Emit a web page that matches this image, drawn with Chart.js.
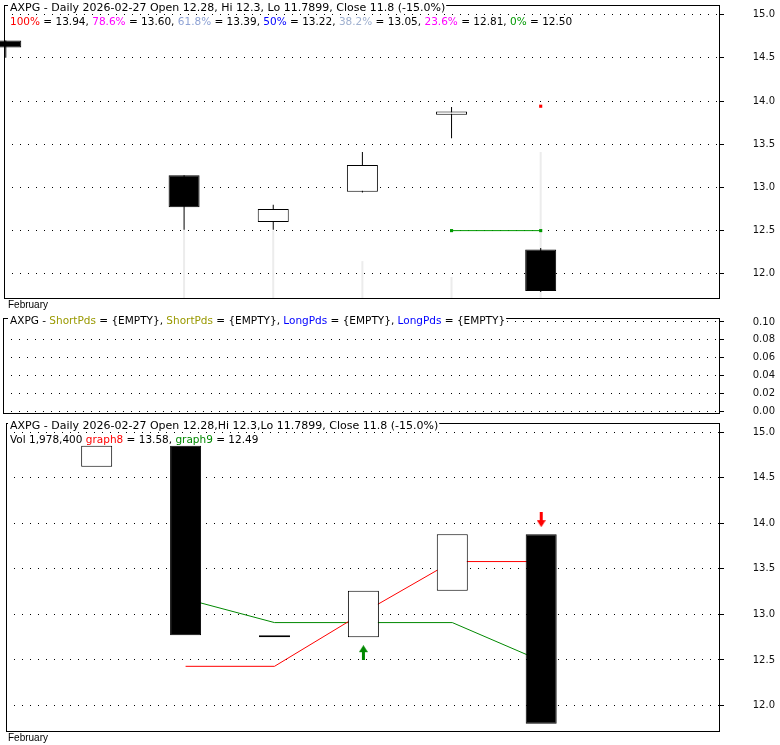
<!DOCTYPE html>
<html>
<head>
<meta charset="utf-8">
<title>AXPG Daily</title>
<script src="https://cdn.jsdelivr.net/npm/chart.js@4.4.1/dist/chart.umd.min.js"></script>
<style>
  html, body { margin: 0; padding: 0; background: #fff; }
  #page { position: relative; width: 780px; height: 745px; overflow: hidden; }
  canvas { position: absolute; left: 0; }
</style>
</head>
<body>
<div id="page">
  <canvas id="priceChart" width="780" height="320" style="top:-4px"></canvas>
  <canvas id="pdsChart" width="780" height="110" style="top:310px"></canvas>
  <canvas id="signalChart" width="780" height="331" style="top:414px"></canvas>
</div>
<script>
const symbol = 'AXPG';
const dates = ['2026-02-19', '2026-02-20', '2026-02-23', '2026-02-24', '2026-02-25', '2026-02-26', '2026-02-27'];
const opens = [14.70, null, 13.14, 12.60, 12.95, 13.84, 12.28];
const highs = [14.70, null, 13.14, 12.80, 13.41, 13.93, 12.3];
const lows = [14.50, null, 12.51, 12.51, 12.94, 13.57, 11.7899];
const closes = [14.62, 14.85, 12.77, 12.75, 13.26, 13.88, 11.8];
const volumes = [null, null, 925000, 915000, 500000, 285000, 1978400];

const fibLabels = ['100%', '78.6%', '61.8%', '50%', '38.2%', '23.6%', '0%'];
const fibValues = [13.94, 13.60, 13.39, 13.22, 13.05, 12.81, 12.50];
const fibColors = ['#ff0000', '#ff00ff', '#8ea2d4', '#0000ff', '#9fb0cf', '#ff00ff', '#009900'];
const fib0Line = [null, null, null, null, null, 12.50, 12.50];
const fib100Mark = [null, null, null, null, null, null, 13.94];

const shortPds = [null, null, null, null, null, null, null];
const longPds = [null, null, null, null, null, null, null];

const graph8 = [null, null, 12.43, 12.43, 13.02, 13.58, 13.58];
const graph9 = [null, null, 13.17, 12.91, 12.91, 12.91, 12.49];
const buySignal = [null, null, null, null, 12.58, null, null];
const sellSignal = [null, null, null, null, null, null, 14.04];

const priceTicks = [12.0, 12.5, 13.0, 13.5, 14.0, 14.5, 15.0];
const pdsTicks = [0.00, 0.02, 0.04, 0.06, 0.08, 0.10];

const FONT = '"DejaVu Sans"';
const HEAD_FONT = '10.5px "DejaVu Sans"';
const TITLE_FONT = '11px "DejaVu Sans"';
const last = closes.length - 1;
const changePct = ((closes[last] - closes[last - 1]) / closes[last - 1] * 100).toFixed(1);
const monthName = new Date(dates[0] + 'T12:00:00').toLocaleString('en-US', {month: 'long'});

const points = (arr) => arr.map((v, i) => ({x: i, y: v})).filter(p => p.y != null);

function drawParts(ctx, x, y, parts, bg, font) {
  ctx.save();
  ctx.font = font || HEAD_FONT;
  let w = 0;
  parts.forEach(p => { w += ctx.measureText(p[0]).width; });
  if (bg) {
    ctx.fillStyle = '#fff';
    ctx.fillRect(x - 2, y - 9, w + 3, 11);
  }
  let cx = x;
  parts.forEach(p => {
    ctx.fillStyle = p[1];
    ctx.fillText(p[0], cx, y);
    cx += ctx.measureText(p[0]).width;
  });
  ctx.restore();
}

const panelPlugin = {
  id: 'panel',
  afterDraw(chart, args, opts) {
    const ctx = chart.ctx;
    const a = chart.chartArea;
    ctx.save();
    ctx.strokeStyle = '#000';
    ctx.lineWidth = 1;
    const l = Math.round(a.left) + 0.5, r = Math.round(a.right) + 0.5;
    const t = Math.round(a.top) - 0.5, b = Math.round(a.bottom) + 0.5;
    ctx.strokeRect(l, t, r - l, b - t);
    ctx.restore();
    (opts.lines || []).forEach((parts, k) => {
      const font = (k === 0 && opts.title) ? TITLE_FONT : HEAD_FONT;
      drawParts(ctx, 10, a.top + 5 + k * 14, parts, k === 0 || opts.bgAll, font);
    });
    if (opts.month) {
      drawParts(ctx, 8, a.bottom + 10, [[opts.month, '#000']], false, '10px "Liberation Sans"');
    }
  }
};

function valueAxis(min, max, ticks, digits) {
  return {
    type: 'linear',
    position: 'right',
    min: min,
    max: max,
    afterBuildTicks: (s) => { s.ticks = ticks.map(v => ({value: v})); },
    afterFit: (s) => { s.width = 56; },
    ticks: {
      padding: 0,
      crossAlign: 'far',
      autoSkip: false,
      color: '#111',
      font: {family: FONT, size: 10},
      callback: (v) => Number(v).toFixed(digits)
    },
    grid: {color: '#000', lineWidth: 1, tickLength: 5, tickColor: '#000'},
    border: {display: false, dash: [1, 7]}
  };
}

const xAxis = {type: 'linear', min: -0.02, max: 8, offset: false, display: false, grid: {offset: false}};

const baseOptions = (padding) => ({
  responsive: false,
  animation: false,
  events: [],
  layout: {padding: padding}
});

// ---- price panel
const candleIdx = opens.map((o, i) => i).filter(i => opens[i] != null);

new Chart(document.getElementById('priceChart'), {
  type: 'bar',
  data: {
    datasets: [
      {
        label: 'Volume',
        yAxisID: 'yVol',
        data: points(volumes),
        backgroundColor: '#ececec',
        barThickness: 2,
        grouped: false,
        inflateAmount: 0,
        order: 5
      },
      {
        label: 'Range',
        data: candleIdx.map(i => ({x: i, y: [lows[i], highs[i]]})),
        backgroundColor: '#000',
        barThickness: 1,
        grouped: false,
        inflateAmount: 0,
        clip: false,
        order: 4
      },
      {
        label: 'Body',
        data: candleIdx.map(i => ({x: i, y: [opens[i], closes[i]]})),
        backgroundColor: candleIdx.map(i => closes[i] >= opens[i] ? '#fff' : '#000'),
        borderColor: '#000',
        borderWidth: 1,
        borderSkipped: false,
        barThickness: 31,
        grouped: false,
        inflateAmount: 0,
        clip: false,
        order: 2
      },
      {
        type: 'line',
        label: fibLabels[6],
        data: points(fib0Line),
        borderColor: fibColors[6],
        borderWidth: 1,
        pointStyle: 'rect',
        pointRadius: 2.2,
        pointBorderWidth: 0,
        pointBackgroundColor: fibColors[6],
        order: 1
      },
      {
        type: 'line',
        label: fibLabels[0],
        data: points(fib100Mark),
        showLine: false,
        pointStyle: 'rect',
        pointRadius: 2.2,
        pointBorderWidth: 0,
        pointBackgroundColor: fibColors[0],
        order: 1
      }
    ]
  },
  options: Object.assign(baseOptions({top: 10, bottom: 18, left: 3, right: 5}), {
    scales: {
      x: xAxis,
      y: valueAxis(11.72, 15.10, priceTicks, 1),
      yVol: {display: false, min: 0, max: 2 * Math.max(...volumes.filter(v => v != null))}
    },
    plugins: {
      legend: {display: false},
      tooltip: {enabled: false},
      panel: {
        month: monthName,
        title: true,
        lines: [
          [[`${symbol} - Daily ${dates[last]} Open ${opens[last]}, Hi ${highs[last]}, Lo ${lows[last]}, Close ${closes[last]} (${changePct}%)`, '#000']],
          fibLabels.flatMap((lab, i) => [
            [lab, fibColors[i]],
            [` = ${fibValues[i].toFixed(2)}` + (i < fibLabels.length - 1 ? ', ' : ''), '#000']
          ])
        ]
      }
    }
  }),
  plugins: [panelPlugin]
});

// ---- short / long periods panel
const pdsText = (arr) => {
  const v = arr.filter(x => x != null);
  return v.length ? v[v.length - 1].toFixed(2) : '{EMPTY}';
};

new Chart(document.getElementById('pdsChart'), {
  type: 'line',
  data: {
    datasets: [
      {label: 'ShortPds', data: points(shortPds), borderColor: '#999900'},
      {label: 'ShortPds', data: points(shortPds), borderColor: '#999900'},
      {label: 'LongPds', data: points(longPds), borderColor: '#0000ff'},
      {label: 'LongPds', data: points(longPds), borderColor: '#0000ff'}
    ]
  },
  options: Object.assign(baseOptions({top: 9, bottom: 7, left: 3, right: 5}), {
    scales: {
      x: xAxis,
      y: valueAxis(-0.0015, 0.1033, pdsTicks, 2)
    },
    plugins: {
      legend: {display: false},
      tooltip: {enabled: false},
      panel: {
        lines: [[
          [`${symbol} - `, '#000'],
          ['ShortPds', '#999900'], [` = ${pdsText(shortPds)}, `, '#000'],
          ['ShortPds', '#999900'], [` = ${pdsText(shortPds)}, `, '#000'],
          ['LongPds', '#0000ff'], [` = ${pdsText(longPds)}, `, '#000'],
          ['LongPds', '#0000ff'], [` = ${pdsText(longPds)}`, '#000']
        ]]
      }
    }
  }),
  plugins: [panelPlugin]
});

// ---- close-to-close / signal panel
function makeArrow(color, up) {
  const c = document.createElement('canvas');
  c.width = 9;
  c.height = 15;
  const g = c.getContext('2d');
  g.fillStyle = color;
  g.beginPath();
  if (up) {
    g.moveTo(4.5, 0); g.lineTo(9, 7); g.lineTo(0, 7); g.closePath(); g.fill();
    g.fillRect(3, 7, 3, 8);
  } else {
    g.fillRect(3, 0, 3, 8);
    g.moveTo(0, 8); g.lineTo(9, 8); g.lineTo(4.5, 15); g.closePath(); g.fill();
  }
  return c;
}

const boxIdx = closes.map((c, i) => i).filter(i => i > 0);

new Chart(document.getElementById('signalChart'), {
  type: 'bar',
  data: {
    datasets: [
      {
        label: 'Close change',
        data: boxIdx.map(i => ({x: i, y: [closes[i - 1], closes[i]]})),
        backgroundColor: boxIdx.map(i => closes[i] > closes[i - 1] ? '#fff' : '#000'),
        borderColor: '#000',
        borderWidth: 1,
        borderSkipped: false,
        barThickness: 31,
        grouped: false,
        inflateAmount: 0,
        order: 2
      },
      {
        type: 'line',
        label: 'graph8',
        data: points(graph8),
        borderColor: '#ff0000',
        borderWidth: 1,
        pointRadius: 0,
        order: 3
      },
      {
        type: 'line',
        label: 'graph9',
        data: points(graph9),
        borderColor: '#008800',
        borderWidth: 1,
        pointRadius: 0,
        order: 3
      },
      {
        type: 'line',
        label: 'Buy',
        data: points(buySignal),
        showLine: false,
        pointStyle: makeArrow('#008800', true),
        pointRadius: 5,
        order: 0
      },
      {
        type: 'line',
        label: 'Sell',
        data: points(sellSignal),
        showLine: false,
        pointStyle: makeArrow('#ff0000', false),
        pointRadius: 5,
        order: 0
      }
    ]
  },
  options: Object.assign(baseOptions({top: 10, bottom: 14, left: 3, right: 5}), {
    scales: {
      x: xAxis,
      y: valueAxis(11.72, 15.09, priceTicks, 1)
    },
    plugins: {
      legend: {display: false},
      tooltip: {enabled: false},
      panel: {
        month: monthName,
        title: true,
        bgAll: true,
        lines: [
          [[`${symbol} - Daily ${dates[last]} Open ${opens[last]},Hi ${highs[last]},Lo ${lows[last]}, Close ${closes[last]} (${changePct}%)`, '#000']],
          [
            [`Vol ${volumes[last].toLocaleString('en-US')} `, '#000'],
            ['graph8', '#ff0000'], [` = ${graph8[last].toFixed(2)}, `, '#000'],
            ['graph9', '#008800'], [` = ${graph9[last].toFixed(2)}`, '#000']
          ]
        ]
      }
    }
  }),
  plugins: [panelPlugin]
});
</script>
</body>
</html>
